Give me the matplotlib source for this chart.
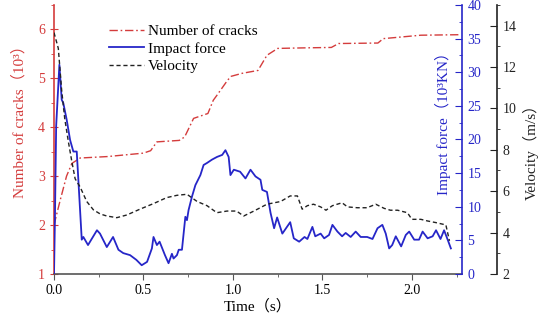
import matplotlib
matplotlib.use("Agg")
import matplotlib.pyplot as plt
from matplotlib.ticker import MultipleLocator

# ---- data ----
t_cracks = [0.0, 0.01, 0.034, 0.07, 0.10, 0.146, 0.30, 0.50, 0.54, 0.575, 0.70, 0.73,
            0.78, 0.86, 0.89, 0.91, 0.97, 0.99, 1.05, 1.14, 1.19, 1.25, 1.38, 1.55,
            1.59, 1.81, 1.84, 2.05, 2.26]
cracks = [2.0, 2.15, 2.5, 3.0, 3.26, 3.37, 3.40, 3.47, 3.52, 3.70, 3.73, 3.80,
          4.18, 4.28, 4.55, 4.65, 4.96, 5.04, 5.10, 5.16, 5.47, 5.61, 5.62, 5.63,
          5.71, 5.72, 5.81, 5.88, 5.89]

t_force = [0.0, 0.005, 0.012, 0.03, 0.043, 0.052, 0.071, 0.09, 0.108, 0.127, 0.155,
           0.164, 0.19, 0.24, 0.257, 0.295, 0.33, 0.36, 0.387, 0.425, 0.46, 0.49,
           0.52, 0.547, 0.556, 0.575, 0.59, 0.62, 0.64, 0.659, 0.668, 0.687, 0.697,
           0.715, 0.734, 0.743, 0.752, 0.771, 0.79, 0.818, 0.836, 0.855, 0.883,
           0.911, 0.94, 0.958, 0.976, 0.986, 1.005, 1.04, 1.07, 1.098, 1.126, 1.154,
           1.164, 1.19, 1.21, 1.23, 1.247, 1.276, 1.32, 1.34, 1.37, 1.40, 1.416,
           1.444, 1.46, 1.49, 1.51, 1.537, 1.556, 1.584, 1.61, 1.63, 1.658, 1.686,
           1.714, 1.75, 1.78, 1.808, 1.835, 1.854, 1.873, 1.89, 1.91, 1.94, 1.966,
           1.985, 2.013, 2.04, 2.06, 2.088, 2.116, 2.135, 2.16, 2.18, 2.20, 2.218]
force = [0.0, 8.0, 22.0, 31.1, 25.9, 25.4, 22.9, 19.9, 18.2, 18.2, 5.1,
         5.5, 4.3, 6.5, 6.0, 4.0, 5.5, 3.6, 3.1, 2.8, 2.1, 1.3,
         1.8, 3.8, 5.5, 4.3, 4.8, 2.8, 1.6, 3.0, 2.3, 2.8, 3.6,
         3.6, 8.5, 8.0, 9.5, 11.5, 13.2, 14.7, 16.2, 16.5, 17.0,
         17.4, 17.7, 18.4, 17.4, 14.7, 15.5, 15.2, 14.2, 15.5, 14.5, 14.0,
         12.5, 12.2, 9.1, 6.8, 8.4, 6.0, 7.7, 5.3, 4.8, 5.5, 5.2,
         7.0, 5.6, 6.0, 5.3, 5.8, 7.3, 6.3, 5.6, 6.1, 5.5, 6.3,
         5.5, 5.5, 5.2, 6.8, 7.3, 6.0, 3.8, 4.3, 5.6, 4.1, 5.8,
         6.3, 5.1, 5.1, 6.3, 5.3, 5.6, 6.5, 5.2, 6.5, 5.1, 3.8]

t_vel = [0.0, 0.024, 0.043, 0.06, 0.08, 0.099, 0.118, 0.146, 0.183, 0.22, 0.258,
         0.295, 0.351, 0.407, 0.48, 0.556, 0.63, 0.687, 0.743, 0.80, 0.855, 0.91,
         0.967, 1.02, 1.06, 1.117, 1.19, 1.266, 1.32, 1.36, 1.387, 1.416, 1.45,
         1.49, 1.52, 1.556, 1.61, 1.64, 1.695, 1.75, 1.798, 1.845, 1.88, 1.92,
         1.975, 2.0, 2.05, 2.088, 2.135, 2.19, 2.21]
velocity = [13.66, 12.9, 10.85, 9.5, 8.4, 7.46, 6.6, 6.2, 5.5, 5.1, 4.9,
            4.8, 4.72, 4.85, 5.13, 5.4, 5.69, 5.8, 5.85, 5.5, 5.3, 4.96,
            5.04, 5.04, 4.8, 5.04, 5.37, 5.5, 5.77, 5.77, 5.13, 5.3, 5.37,
            5.24, 5.08, 5.3, 5.44, 5.24, 5.2, 5.2, 5.37, 5.17, 5.08, 5.08,
            4.96, 4.64, 4.64, 4.56, 4.48, 4.37, 3.6]

RED = "#d43c3c"
BLUE = "#2626c8"
BLACK = "#222222"
SERIF = ["Liberation Serif", "Noto Sans CJK SC"]

plt.rcParams["font.family"] = SERIF
plt.rcParams["font.size"] = 10

fig = plt.figure(figsize=(5.38, 3.25), dpi=100)
ax = fig.add_axes([0.1004, 0.157, 0.7583, 0.828])
ax2 = ax.twinx()
ax3 = ax.twinx()
ax3.spines["right"].set_position(("axes", 1.086))

l1, = ax.plot(t_cracks, cracks, color=RED, lw=1.0, linestyle=(0, (6, 2, 1.2, 2)),
              label="Number of cracks")
l2, = ax2.plot(t_force, force, color=BLUE, lw=1.3, label="Impact force")
l3, = ax3.plot(t_vel, velocity, color=BLACK, lw=1.0, linestyle=(0, (3, 2)),
               label="Velocity")

ax.set_xlim(0, 2.28)
ax.set_ylim(1, 6.5)
ax2.set_ylim(0, 40)
ax3.set_ylim(2, 15)

for a in (ax, ax2, ax3):
    a.spines["top"].set_visible(False)
ax.spines["right"].set_visible(False)
ax2.spines["left"].set_visible(False)
ax3.spines["left"].set_visible(False)
ax3.spines["bottom"].set_visible(False)
ax2.spines["bottom"].set_visible(False)

ax.spines["left"].set_color(RED)
ax.spines["bottom"].set_color("#555555")
ax2.spines["right"].set_color(BLUE)
ax3.spines["right"].set_color(BLACK)
for s in (ax.spines["left"], ax.spines["bottom"], ax2.spines["right"], ax3.spines["right"]):
    s.set_linewidth(1.2)

ax.xaxis.set_major_locator(MultipleLocator(0.5))
ax.xaxis.set_minor_locator(MultipleLocator(0.25))
ax.yaxis.set_major_locator(MultipleLocator(1))
ax.yaxis.set_minor_locator(MultipleLocator(0.5))
ax2.yaxis.set_major_locator(MultipleLocator(5))
ax2.yaxis.set_minor_locator(MultipleLocator(2.5))
ax3.yaxis.set_major_locator(MultipleLocator(2))
ax3.yaxis.set_minor_locator(MultipleLocator(1))

ax.tick_params(axis="x", which="major", direction="out", length=4, color="#555555",
               labelsize=10, pad=3)
ax.tick_params(axis="x", which="minor", direction="out", length=2, color="#555555")
ax.tick_params(axis="y", which="major", direction="inout", length=6, color=RED,
               labelcolor=RED, labelsize=10)
ax.tick_params(axis="y", which="minor", direction="out", length=2.5, color=RED)
ax2.tick_params(axis="y", which="major", direction="in", length=5, color=BLUE,
                labelcolor=BLUE, labelsize=10, pad=4)
ax2.tick_params(axis="y", which="minor", direction="in", length=2.5, color=BLUE)
ax3.tick_params(axis="y", which="major", direction="in", length=5, color=BLACK,
                labelcolor=BLACK, labelsize=10, pad=4)
ax3.tick_params(axis="y", which="minor", direction="out", length=2.5, color=BLACK)

ax.xaxis.set_major_formatter(matplotlib.ticker.FormatStrFormatter("%.1f"))

ax.set_xlabel("Time（s）", fontsize=11, labelpad=2)
ax.set_ylabel("Number of cracks（10³）", color=RED, fontsize=11)
ax.yaxis.set_label_coords(-0.068, 0.58)
ax2.set_ylabel("Impact force（10³KN）", color=BLUE, fontsize=11)
ax2.yaxis.set_label_coords(0.933, 0.573)
ax3.set_ylabel("Velocity（m/s）", color=BLACK, fontsize=11)
ax3.yaxis.set_label_coords(1.148, 0.468)

ax.legend(handles=[l1, l2, l3], loc="upper left", bbox_to_anchor=(0.12, 0.95),
          frameon=False, fontsize=11, handlelength=2.3, handletextpad=0.25,
          labelspacing=0.25, borderaxespad=0)

fig.savefig("out.png", dpi=100)
